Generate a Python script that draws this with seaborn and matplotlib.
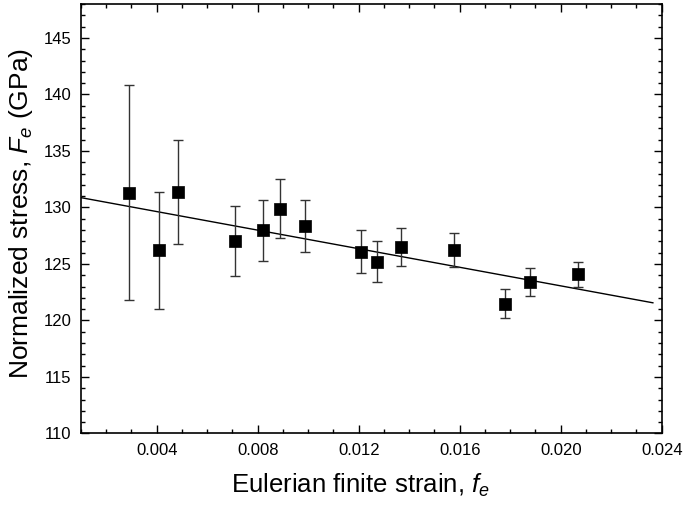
import numpy as np
import pandas as pd
import matplotlib
matplotlib.use("Agg")
import matplotlib.pyplot as plt
import seaborn as sns
from matplotlib.ticker import MultipleLocator

# data
strain = [0.00289, 0.00411, 0.00485, 0.00710, 0.00821, 0.00887, 0.00986,
          0.01210, 0.01271, 0.01366, 0.01579, 0.01779, 0.01878, 0.02069]
stress = [131.3, 126.2, 131.4, 127.0, 128.0, 129.9, 128.4,
          126.1, 125.2, 126.5, 126.2, 121.5, 123.4, 124.1]
err_up = [9.5, 5.2, 4.6, 3.1, 2.7, 2.6, 2.3,
          1.9, 1.8, 1.7, 1.5, 1.25, 1.2, 1.1]
err_lo = [9.5, 5.2, 4.6, 3.1, 2.7, 2.6, 2.3,
          1.9, 1.8, 1.7, 1.5, 1.3, 1.25, 1.15]

# linear fit end points
fit_x = [0.0010, 0.02366]
fit_y = [130.87, 121.56]

df = pd.DataFrame({"strain": strain, "stress": stress})
fit = pd.DataFrame({"x": fit_x, "y": fit_y})

sns.set_style("ticks")
plt.rcParams['font.family'] = ['Liberation Sans', 'DejaVu Sans']
plt.rcParams['mathtext.fontset'] = 'custom'
plt.rcParams['mathtext.rm'] = 'Liberation Sans'
plt.rcParams['mathtext.it'] = 'Liberation Sans:italic'
plt.rcParams['text.color'] = 'black'
plt.rcParams['axes.labelcolor'] = 'black'

fig = plt.figure(figsize=(6.85, 5.07), dpi=100)
ax = fig.add_axes([0.1182, 0.145, 0.966 - 0.1182, 0.992 - 0.145])

sns.lineplot(data=fit, x="x", y="y", ax=ax, color="black", linewidth=1.0)
ax.errorbar(strain, stress, yerr=[err_lo, err_up], fmt="none",
            ecolor="#333333", elinewidth=1.0, capsize=3.5, capthick=1.0, zorder=2)
sns.scatterplot(data=df, x="strain", y="stress", ax=ax, marker="s", s=85,
                color="black", edgecolor="black", linewidth=0.5, zorder=3)

ax.set_xlim(0.001, 0.024)
ax.set_ylim(110, 148)
ax.set_xticks([0.004, 0.008, 0.012, 0.016, 0.020, 0.024])
ax.set_xticklabels(["0.004", "0.008", "0.012", "0.016", "0.020", "0.024"])
ax.xaxis.set_minor_locator(MultipleLocator(0.001))
ax.set_yticks(np.arange(110, 146, 5))
ax.yaxis.set_minor_locator(MultipleLocator(1))

ax.tick_params(which="both", direction="in", top=True, right=True,
               labelsize=12, colors="black", width=1.0)
ax.tick_params(which="major", length=6, pad=7)
ax.tick_params(which="minor", length=3)
for s in ax.spines.values():
    s.set_linewidth(1.2)
    s.set_color("black")

ax.set_xlabel("Eulerian finite strain, $f_e$", fontsize=18.5, labelpad=10, color="black")
ax.set_ylabel("Normalized stress, $F_e$ (GPa)", fontsize=19, labelpad=6, color="black")
ax.xaxis.label.set_x(0.482)
ax.yaxis.label.set_y(0.513)

fig.savefig("out.png", dpi=100)
